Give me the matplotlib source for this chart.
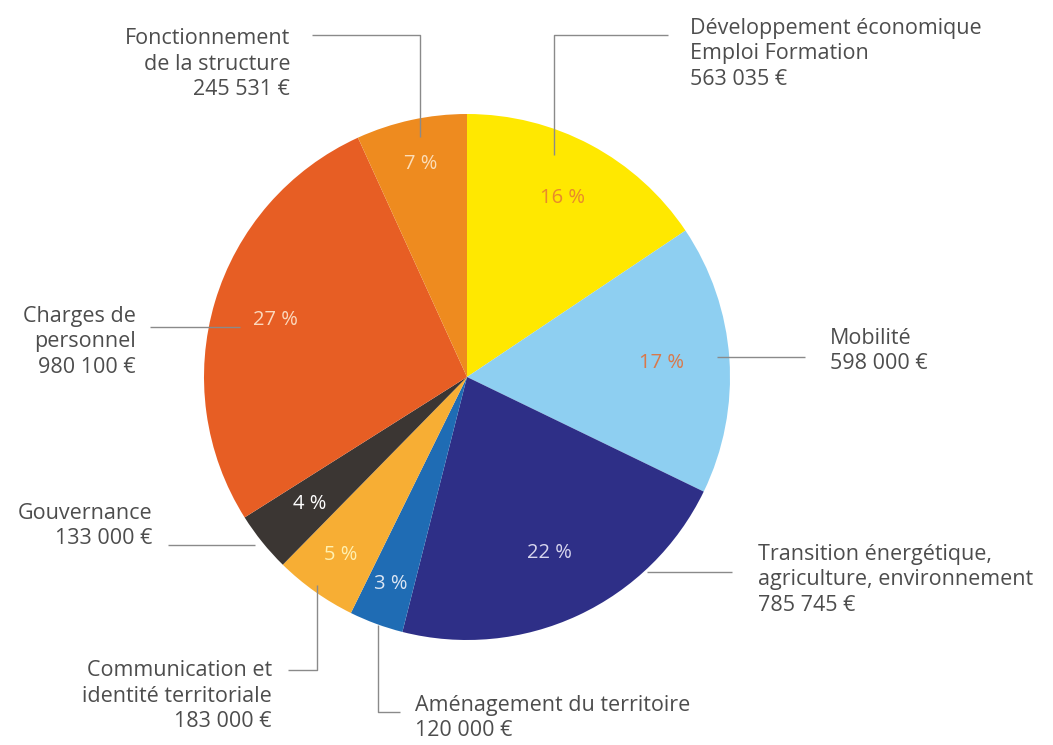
import matplotlib
matplotlib.use("Agg")
import matplotlib.pyplot as plt
import numpy as np

labels = [
    "Développement économique\nEmploi Formation",
    "Mobilité",
    "Transition énergétique,\nagriculture, environnement",
    "Aménagement du territoire",
    "Communication et\nidentité territoriale",
    "Gouvernance",
    "Charges de\npersonnel",
    "Fonctionnement\nde la structure",
]
amounts = [563035, 598000, 785745, 120000, 183000, 133000, 980100, 245531]
amount_text = ["563 035 €", "598 000 €", "785 745 €", "120 000 €",
               "183 000 €", "133 000 €", "980 100 €", "245 531 €"]
pct_labels = ["16 %", "17 %", "22 %", "3 %", "5 %", "4 %", "27 %", "7 %"]

colors = ["#FFE800", "#8ECFF1", "#2E2F87", "#1F6CB4",
          "#F7AE34", "#3B3633", "#E75E24", "#EE8B1F"]
pct_colors = ["#E8892C", "#D9784A", "#D8D6EE", "#DCE6F3",
              "#FFF0B0", "#FFFFFF", "#FBD9BE", "#FBDDB8"]

W, H = 1053, 745
fig = plt.figure(figsize=(W / 100, H / 100), dpi=100)
ax = fig.add_axes([0, 0, 1, 1])

cx, cy, R = 467, H - 377, 263
wedges, _ = ax.pie(amounts, colors=colors, startangle=90, counterclock=False,
                   center=(cx, cy), radius=R, frame=True,
                   wedgeprops=dict(linewidth=0))
ax.set_xlim(0, W)
ax.set_ylim(0, H)
ax.set_aspect("equal")
ax.axis("off")

total = sum(amounts)
cum = 0
pct_r = [0.77, 0.74, 0.74, 0.84, 0.83, 0.77, 0.76, 0.83]
for i, a in enumerate(amounts):
    mid = cum + a / 2
    cum += a
    ang = np.deg2rad(90 - 360 * mid / total)
    x = cx + pct_r[i] * R * np.cos(ang)
    y = cy + pct_r[i] * R * np.sin(ang)
    ax.text(x, y, pct_labels[i], ha="center", va="center", fontsize=14.5,
            color=pct_colors[i], family="Open Sans")

tc = "#4d4d4d"
lc = "#8a8a8a"
fs = 15.5
font = dict(family="Open Sans", fontsize=fs, color=tc, linespacing=1.31)

def line(xs, ys):
    ax.plot(xs, [H - y for y in ys], color=lc, lw=1.0, solid_capstyle="butt")

def label(i, x, yc, ha):
    ax.text(x, H - yc - 2, labels[i] + "\n" + amount_text[i], ha=ha, va="center",
            multialignment=ha, **font)

# Développement
line([668, 554, 554], [35, 35, 155])
label(0, 690, 52, "left")
# Mobilité
line([717, 805], [357, 357])
label(1, 830, 349, "left")
# Transition
line([647, 732], [572, 572])
label(2, 758, 578, "left")
# Aménagement
line([378, 378, 400], [625, 712, 712])
label(3, 415, 716, "left")
# Communication
line([317, 317, 288], [585, 670, 670])
label(4, 272, 694, "right")
# Gouvernance
line([168, 255], [545, 545])
label(5, 152, 524, "right")
# Charges
line([150, 240], [327, 327])
label(6, 136, 340, "right")
# Fonctionnement
line([312, 420, 420], [35, 35, 137])
label(7, 290, 62, "right")

fig.savefig("out.png", dpi=100, facecolor="white")
